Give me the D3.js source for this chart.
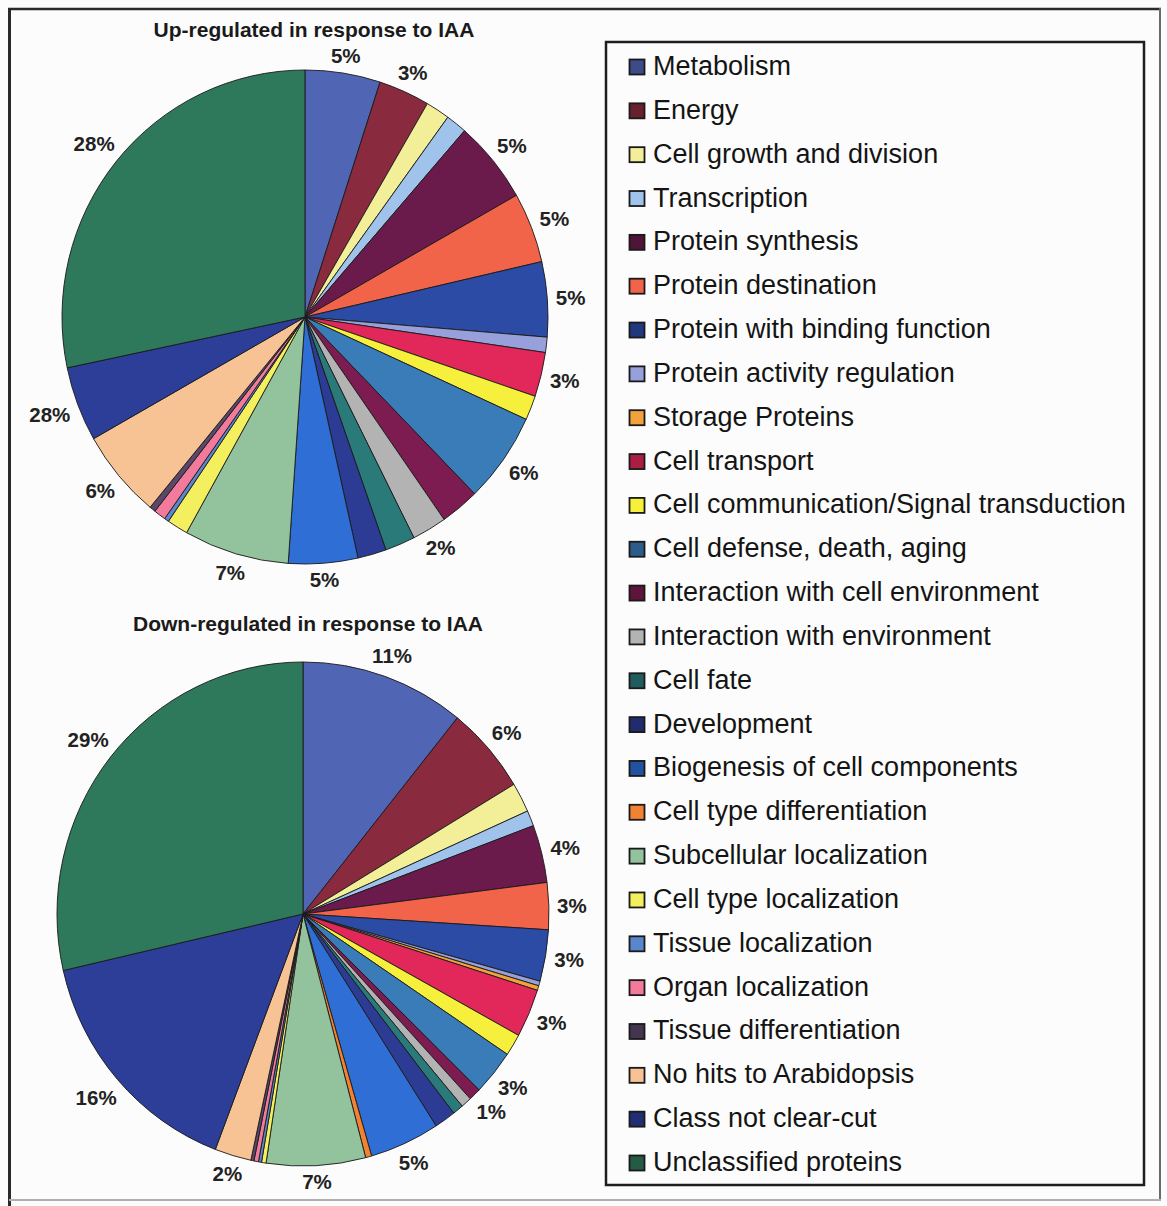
<!DOCTYPE html>
<html>
<head>
<meta charset="utf-8">
<script src="https://cdn.jsdelivr.net/npm/d3@7"></script>
<style>
  body { margin: 0; background: #fcfcfc; }
  text { font-family: "Liberation Sans", Arial, Helvetica, sans-serif; }
</style>
</head>
<body>
<svg id="chart" width="1167" height="1206"></svg>
<script>
// Functional categories (legend order = slice order, clockwise from 12 o'clock)
const categories = [
  "Metabolism", "Energy", "Cell growth and division", "Transcription",
  "Protein synthesis", "Protein destination", "Protein with binding function",
  "Protein activity regulation", "Storage Proteins", "Cell transport",
  "Cell communication/Signal transduction", "Cell defense, death, aging",
  "Interaction with cell environment", "Interaction with environment",
  "Cell fate", "Development", "Biogenesis of cell components",
  "Cell type differentiation", "Subcellular localization",
  "Cell type localization", "Tissue localization", "Organ localization",
  "Tissue differentiation", "No hits to Arabidopsis", "Class not clear-cut",
  "Unclassified proteins"
];

const colors = [
  "#5165b5", "#8a2a3e", "#f3ef98", "#9fc3ea",
  "#6a1a4b", "#f16449", "#2b4ba5",
  "#97a0db", "#f2a23a", "#e2285a",
  "#f6f03c", "#3a7cb8",
  "#7c1c50", "#b3b3b3",
  "#2b7a7a", "#2c3b94", "#2f6fd5",
  "#f08232", "#93c39d",
  "#f4ef5e", "#5a86cb", "#f27a9b",
  "#5b4868", "#f7c394", "#2c3e97",
  "#2e795b"
];

// Share of ESTs per category (%)
const upValues = [
  5.0, 3.4, 1.6, 1.4,
  5.4, 4.6, 4.9,
  1.0, 0, 2.9,
  1.6, 5.9,
  2.6, 2.3,
  2.0, 1.9, 4.6,
  0, 7.0,
  1.4, 0.3, 0.8,
  0.4, 5.8, 4.9,
  28.3
];

const downValues = [
  10.8, 5.6, 1.9, 1.0,
  3.7, 3.0, 3.3,
  0.3, 0.3, 3.1,
  1.4, 2.9,
  0.8, 0.7,
  0.7, 1.4, 4.6,
  0.4, 6.5,
  0.3, 0.2, 0.3,
  0.2, 2.4, 15.6,
  28.6
];

// Printed slice labels ("" = no label)
const upLabels = [
  "5%", "3%", "", "",
  "5%", "5%", "5%",
  "", "", "3%",
  "", "6%",
  "", "2%",
  "", "", "5%",
  "", "7%",
  "", "", "",
  "", "6%", "28%",
  "28%"
];

const downLabels = [
  "11%", "6%", "", "",
  "4%", "3%", "3%",
  "", "", "3%",
  "", "3%",
  "1%", "",
  "", "", "5%",
  "", "7%",
  "", "", "",
  "", "2%", "16%",
  "29%"
];

const titles = ["Up-regulated in response to IAA", "Down-regulated in response to IAA"];

const W = 1167, H = 1206;
const svg = d3.select("#chart");

svg.append("rect").attr("width", W).attr("height", H).attr("fill", "#fcfcfc");

// Outer frame: dark left/top rules, lighter right/bottom
svg.append("line").attr("x1", 9.5).attr("y1", 9).attr("x2", 9.5).attr("y2", H)
  .attr("stroke", "#2a2a2a").attr("stroke-width", 3);
svg.append("line").attr("x1", 8).attr("y1", 9).attr("x2", 1161).attr("y2", 9)
  .attr("stroke", "#2a2a2a").attr("stroke-width", 2.5);
svg.append("line").attr("x1", 1160).attr("y1", 8).attr("x2", 1160).attr("y2", 1200)
  .attr("stroke", "#6a6a6a").attr("stroke-width", 2);
svg.append("line").attr("x1", 9).attr("y1", 1200).attr("x2", 1161).attr("y2", 1200)
  .attr("stroke", "#b0b0b0").attr("stroke-width", 2);

const pie = d3.pie().sort(null).value(d => d.v);

function drawPie(values, labels, title, cfg) {
  const data = categories.map((c, i) => ({ name: c, v: values[i], label: labels[i], color: colors[i] }));
  const arcs = pie(data);
  const arc = d3.arc().innerRadius(0).outerRadius(cfg.rx);

  const g = svg.append("g");

  g.append("text")
    .attr("x", cfg.titleX).attr("y", cfg.titleY)
    .attr("text-anchor", "middle")
    .attr("font-size", 21).attr("font-weight", "bold")
    .attr("fill", "#1a1a1a")
    .text(title);

  const slices = g.append("g")
    .attr("transform", `translate(${cfg.cx},${cfg.cy}) scale(1,${cfg.ry / cfg.rx})`);

  slices.selectAll("path")
    .data(arcs.filter(d => d.data.v > 0))
    .join("path")
    .attr("d", arc)
    .attr("fill", d => d.data.color)
    .attr("stroke", "#1a1a1a")
    .attr("stroke-width", 0.9)
    .attr("stroke-linejoin", "round");

  const fs = 20.5, capH = fs * 0.72, gap = 8;
  const lab = g.append("g");
  arcs.filter(d => d.data.label).forEach(d => {
    const a = (d.startAngle + d.endAngle) / 2;
    const ux = Math.sin(a), uy = -Math.cos(a);
    const t = lab.append("text")
      .attr("font-size", fs).attr("font-weight", "bold")
      .attr("fill", "#222")
      .attr("text-anchor", "middle")
      .text(d.data.label);
    const w = t.node().getComputedTextLength();
    const ext = Math.abs(ux) * w / 2 + Math.abs(uy) * capH / 2;
    const ex = cfg.cx + cfg.rx * ux, ey = cfg.cy + cfg.ry * uy;
    const px = ex + ux * (gap + ext), py = ey + uy * (gap + ext);
    t.attr("x", px).attr("y", py + capH / 2);
  });
}

drawPie(upValues, upLabels, titles[0], { cx: 305, cy: 317, rx: 243, ry: 247, titleX: 314, titleY: 37 });
drawPie(downValues, downLabels, titles[1], { cx: 303, cy: 914, rx: 246, ry: 252, titleX: 308, titleY: 631 });

// Legend
const legend = svg.append("g");
legend.append("rect")
  .attr("x", 606).attr("y", 42).attr("width", 538).attr("height", 1143)
  .attr("fill", "none").attr("stroke", "#1e1e1e").attr("stroke-width", 2.5);

const rowY = d3.scalePoint().domain(categories).range([75, 1171]);

// Dark swatches print heavier than the slices; pale ones keep their tint
const swatchFill = c => d3.hsl(c).l > 0.55 ? c : d3.color(c).darker(0.8);

const items = legend.selectAll("g.item")
  .data(categories.map((c, i) => ({ name: c, color: colors[i] })))
  .join("g").attr("class", "item")
  .attr("transform", d => `translate(0,${rowY(d.name)})`);

items.append("rect")
  .attr("x", 629.5).attr("y", -15.5).attr("width", 15).attr("height", 15)
  .attr("fill", d => swatchFill(d.color))
  .attr("stroke", "#1a1a1a").attr("stroke-width", 1.8);

items.append("text")
  .attr("x", 653).attr("y", 0)
  .attr("font-size", 27)
  .attr("fill", "#141414")
  .text(d => d.name);
</script>
</body>
</html>
